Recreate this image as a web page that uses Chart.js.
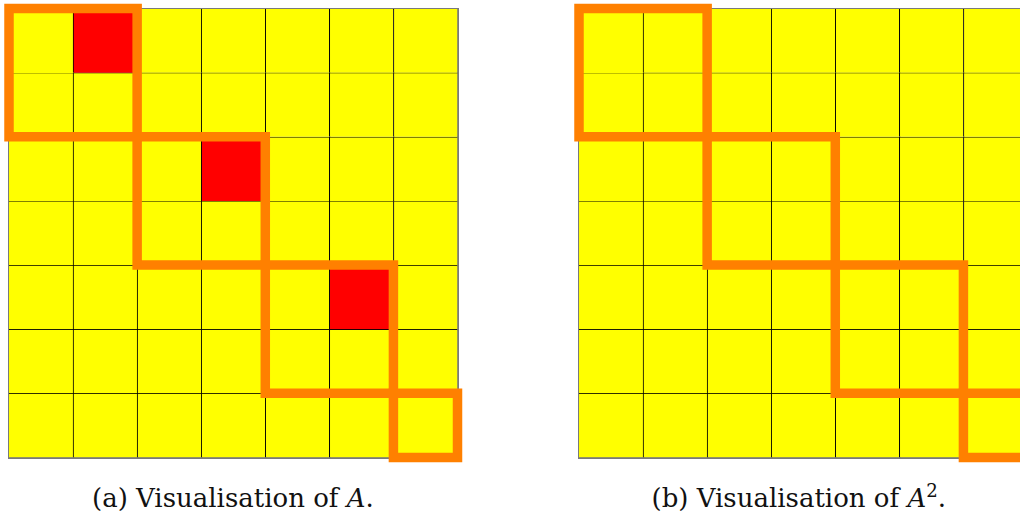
<!DOCTYPE html>
<html>
<head>
<meta charset="utf-8">
<script src="https://cdn.jsdelivr.net/npm/chart.js@4/dist/chart.umd.min.js"></script>
<style>
  html, body { margin: 0; padding: 0; width: 1020px; height: 513px; overflow: hidden; background: #fff; }
  canvas { position: absolute; top: 0; }
  #cA { left: 0; }
  #cB { left: 570px; }
  .cap { position: absolute; top: 485px; font-family: "DejaVu Serif", serif; font-size: 26px; line-height: 26px; color: #111; white-space: nowrap; }
  .cap i { font-style: italic; }
  .cap sup { font-size: 0.7em; line-height: 0; vertical-align: 0.55em; }
</style>
</head>
<body>
<canvas id="cA" width="470" height="470"></canvas>
<canvas id="cB" width="470" height="470"></canvas>
<div class="cap" id="capA">(a) Visualisation of <i>A</i>.</div>
<div class="cap" id="capB">(b) Visualisation of <i>A</i><sup>2</sup>.</div>
<script>
// ---- data ----
const columns = ['1', '2', '3', '4', '5', '6', '7'];
const rows = [0, 1, 2, 3, 4, 5, 6];
// 1 = highlighted (red) cell, 0 = plain (yellow) cell
const matrixA = [
  [0, 1, 0, 0, 0, 0, 0],
  [0, 0, 0, 0, 0, 0, 0],
  [0, 0, 0, 1, 0, 0, 0],
  [0, 0, 0, 0, 0, 0, 0],
  [0, 0, 0, 0, 0, 1, 0],
  [0, 0, 0, 0, 0, 0, 0],
  [0, 0, 0, 0, 0, 0, 0]
];
const matrixA2 = [
  [0, 0, 0, 0, 0, 0, 0],
  [0, 0, 0, 0, 0, 0, 0],
  [0, 0, 0, 0, 0, 0, 0],
  [0, 0, 0, 0, 0, 0, 0],
  [0, 0, 0, 0, 0, 0, 0],
  [0, 0, 0, 0, 0, 0, 0],
  [0, 0, 0, 0, 0, 0, 0]
];
// diagonal blocks: [start, end] in cell units
const blockStarts = [0, 2, 4, 6];
const blockEnds = [2, 4, 6, 7];

const YELLOW = '#FFFF00', RED = '#FF0000', ORANGE = '#FF8000', GRIDC = '#000000', EDGE = '#7a7a7a';

function buildDatasets(matrix) {
  const ds = [];
  rows.forEach((r) => {
    ds.push({
      type: 'bar',
      xAxisID: 'x', yAxisID: 'y',
      data: columns.map(() => [r, r + 1]),
      backgroundColor: matrix[r].map(v => v ? RED : YELLOW),
      borderColor: GRIDC,
      borderWidth: (ctx) => ({ left: ctx.dataIndex > 0 ? 1 : 0, top: r > 0 ? 1 : 0, right: 0, bottom: 0 }),
      borderSkipped: false,
      barPercentage: 1,
      categoryPercentage: 1,
      grouped: false,
      order: 2
    });
  });
  blockStarts.forEach((s, i) => {
    const e = blockEnds[i];
    ds.push({
      type: 'line',
      xAxisID: 'xb', yAxisID: 'y',
      data: [{x: s, y: s}, {x: e, y: s}, {x: e, y: e}, {x: s, y: e}, {x: s, y: s}],
      borderColor: ORANGE,
      borderWidth: 9.5,
      borderJoinStyle: 'miter',
      borderCapStyle: 'square',
      pointRadius: 0,
      fill: false,
      tension: 0,
      clip: false,
      order: 1
    });
  });
  return ds;
}

function hiddenAxis(extra) {
  return Object.assign({
    display: true,
    offset: false,
    grid: { display: true, offset: false, drawOnChartArea: false, drawTicks: false, color: 'rgba(0,0,0,0)' },
    border: { display: true, color: EDGE, width: 2 },
    ticks: { display: false }
  }, extra);
}

function makeChart(id, matrix) {
  return new Chart(document.getElementById(id), {
    type: 'bar',
    data: { labels: columns, datasets: buildDatasets(matrix) },
    options: {
      responsive: false,
      animation: false,
      events: [],
      layout: { padding: { left: 9, top: 8.5, right: 12.5, bottom: 12.5 } },
      plugins: { legend: { display: false }, tooltip: { enabled: false }, title: { display: false } },
      scales: {
        x: hiddenAxis({ type: 'category', position: 'bottom', offset: true }),
        xb: hiddenAxis({ type: 'linear', position: 'top', min: 0, max: 7, offset: false }),
        y: hiddenAxis({ type: 'linear', position: 'left', min: 0, max: 7, reverse: true }),
        yr: hiddenAxis({ type: 'linear', position: 'right', min: 0, max: 7, reverse: true })
      }
    }
  });
}

makeChart('cA', matrixA);
makeChart('cB', matrixA2);

function placeCaption(id, centerX) {
  const el = document.getElementById(id);
  const w = el.offsetWidth;
  el.style.left = (centerX - w / 2) + 'px';
}
placeCaption('capA', 233);
placeCaption('capB', 799);
</script>
</body>
</html>
